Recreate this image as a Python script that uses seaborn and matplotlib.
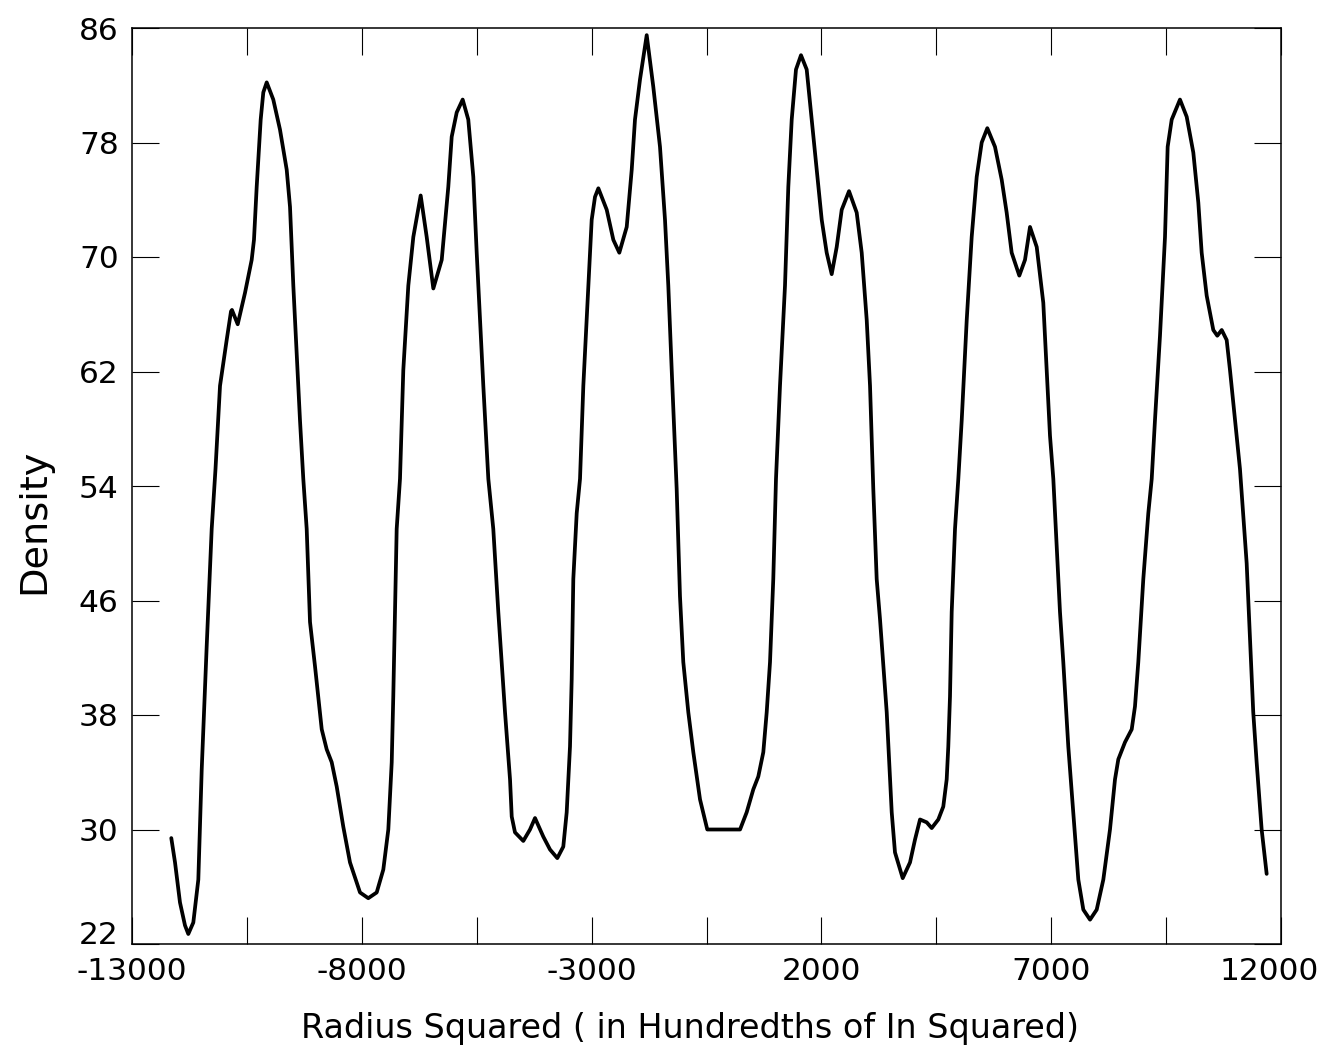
import numpy as np
import pandas as pd
import matplotlib
matplotlib.use("Agg")
import matplotlib.pyplot as plt
import matplotlib.transforms as mtransforms
import seaborn as sns

# ---- data ----
radius_sq = [
    -12145, -12064, -11956, -11847, -11775, -11666, -11557, -11483, -11375, -11266,
    -11183, -11085, -10940, -10846, -10825, -10700, -10541, -10396, -10346, -10287,
    -10200, -10143, -10069, -9926, -9780, -9634, -9562, -9490, -9417, -9345,
    -9273, -9199, -9127, -9018, -8872, -8764, -8655, -8546, -8403, -8257,
    -8039, -7859, -7676, -7532, -7423, -7349, -7315, -7278, -7241, -7169,
    -7097, -6988, -6879, -6719, -6588, -6444, -6261, -6118, -6044, -5935,
    -5805, -5683, -5574, -5500, -5428, -5356, -5247, -5139, -5030, -4884,
    -4775, -4738, -4667, -4486, -4340, -4231, -4051, -3905, -3746, -3616,
    -3542, -3470, -3433, -3398, -3324, -3252, -3180, -3071, -2998, -2926,
    -2853, -2671, -2527, -2397, -2236, -2127, -2056, -1947, -1801, -1658,
    -1512, -1403, -1331, -1257, -1149, -1077, -1005, -896, -787, -641,
    -483, 230, 374, 518, 627, 736, 810, 882, 953, 1012,
    1099, 1208, 1280, 1354, 1447, 1556, 1680, 1789, 1898, 2007,
    2115, 2224, 2333, 2442, 2601, 2768, 2877, 2986, 3058, 3129,
    3203, 3275, 3421, 3530, 3601, 3769, 3928, 4037, 4146, 4291,
    4400, 4544, 4652, 4726, 4761, 4798, 4835, 4907, 4979, 5053,
    5162, 5270, 5379, 5488, 5610, 5777, 5923, 6031, 6140, 6306,
    6430, 6539, 6685, 6828, 6902, 6974, 7046, 7191, 7263, 7372,
    7481, 7590, 7699, 7845, 7990, 8134, 8279, 8388, 8460, 8606,
    8752, 8823, 8895, 9004, 9113, 9187, 9258, 9367, 9476, 9534,
    9622, 9802, 9948, 10092, 10201, 10274, 10383, 10527, 10614, 10710,
    10818, 10890, 10999, 11107, 11253, 11396, 11470, 11579, 11688,
]
density = [
    29.4, 27.7, 24.9, 23.3, 22.7, 23.5, 26.5, 34.2, 42.8, 51.0,
    55.2, 61.0, 64.2, 66.2, 66.3, 65.3, 67.5, 69.8, 71.2, 74.9,
    79.6, 81.5, 82.2, 81.0, 78.9, 76.1, 73.5, 68.0, 63.3, 58.6,
    54.5, 51.0, 44.5, 41.4, 37.0, 35.6, 34.7, 33.0, 30.2, 27.7,
    25.6, 25.2, 25.6, 27.2, 30.0, 34.7, 39.3, 45.2, 51.0, 54.5,
    62.1, 68.0, 71.4, 74.3, 71.4, 67.8, 69.8, 74.9, 78.4, 80.1,
    81.0, 79.6, 75.6, 70.3, 65.6, 61.0, 54.5, 51.0, 45.2, 38.2,
    33.5, 30.9, 29.8, 29.2, 30.0, 30.8, 29.5, 28.6, 28.0, 28.8,
    31.2, 35.8, 40.5, 47.5, 52.1, 54.5, 61.0, 68.0, 72.6, 74.2,
    74.8, 73.3, 71.2, 70.3, 72.1, 76.1, 79.6, 82.4, 85.5, 81.9,
    77.7, 72.6, 68.0, 62.1, 53.8, 46.3, 41.7, 38.2, 35.4, 32.1,
    30.0, 30.0, 31.2, 32.8, 33.7, 35.4, 38.2, 41.7, 47.5, 54.5,
    61.0, 68.0, 74.9, 79.6, 83.1, 84.1, 83.1, 79.6, 76.1, 72.6,
    70.3, 68.8, 70.7, 73.3, 74.6, 73.1, 70.3, 65.6, 61.0, 53.8,
    47.5, 44.7, 38.2, 31.2, 28.4, 26.6, 27.7, 29.3, 30.7, 30.5,
    30.1, 30.7, 31.6, 33.5, 35.8, 39.3, 45.2, 51.0, 54.5, 58.6,
    65.6, 71.4, 75.6, 78.0, 79.0, 77.7, 75.4, 73.1, 70.3, 68.7,
    69.8, 72.1, 70.7, 66.8, 62.1, 57.5, 54.5, 45.2, 41.7, 35.8,
    31.2, 26.5, 24.4, 23.7, 24.4, 26.5, 30.0, 33.5, 34.9, 36.1,
    37.0, 38.6, 41.7, 47.5, 52.1, 54.5, 58.6, 64.5, 71.4, 77.7,
    79.6, 81.0, 79.8, 77.3, 73.8, 70.3, 67.3, 64.9, 64.5, 64.9,
    64.2, 62.1, 58.6, 55.2, 48.6, 38.2, 34.7, 30.0, 26.9,
]

x_ticks = [-13000, -10500, -8000, -5500, -3000, -500, 2000, 4500, 7000, 9500, 12000]
x_tick_labels = ["-13000", "", "-8000", "", "-3000", "", "2000", "", "7000", "", "12000"]
y_ticks = [22, 30, 38, 46, 54, 62, 70, 78, 86]
y_tick_labels = ["22", "30", "38", "46", "54", "62", "70", "78", "86"]

x_label = "Radius Squared ( in Hundredths of In Squared)"
y_label = "Density"

df = pd.DataFrame({"x": radius_sq, "y": density})

sns.set_style("ticks")
plt.rcParams["font.family"] = ["DejaVu Sans"]

fig = plt.figure(figsize=(13.29, 10.52), dpi=100)
ax = fig.add_axes([132 / 1329, 1 - 944 / 1052, (1281 - 132) / 1329, (944 - 28) / 1052])

sns.lineplot(data=df, x="x", y="y", sort=False, estimator=None,
             color="black", linewidth=2.7, ax=ax)

ax.set_xlim(-13000, 12000)
ax.set_ylim(22, 86)
ax.set_xticks(x_ticks)
ax.set_xticklabels(x_tick_labels)
ax.set_yticks(y_ticks)
ax.set_yticklabels(y_tick_labels)

ax.tick_params(axis="both", direction="in", length=19.5, width=0.8,
               color="black", labelsize=22.5, labelcolor="black")
ax.tick_params(axis="x", top=True, bottom=True, pad=9.4)
ax.tick_params(axis="y", left=True, right=True, pad=9.5)

for s in ax.spines.values():
    s.set_visible(True)
    s.set_color("black")
    s.set_linewidth(1.1)

ax.set_xlabel(x_label, fontsize=24, color="black")
ax.set_ylabel(y_label, fontsize=27.5, color="black")
ax.xaxis.set_label_coords(0.4856, -0.0742)
ax.yaxis.set_label_coords(-0.0696, 0.4618)

# nudge the corner labels like the reference does (avoid clash / edge)
last_x = ax.get_xticklabels()[-1]
last_x.set_transform(last_x.get_transform() +
                     mtransforms.ScaledTranslation(-0.12, 0, fig.dpi_scale_trans))
first_y = ax.get_yticklabels()[0]
first_y.set_transform(first_y.get_transform() +
                      mtransforms.ScaledTranslation(0, 0.12, fig.dpi_scale_trans))

fig.savefig("out.png", dpi=100, facecolor="white")
